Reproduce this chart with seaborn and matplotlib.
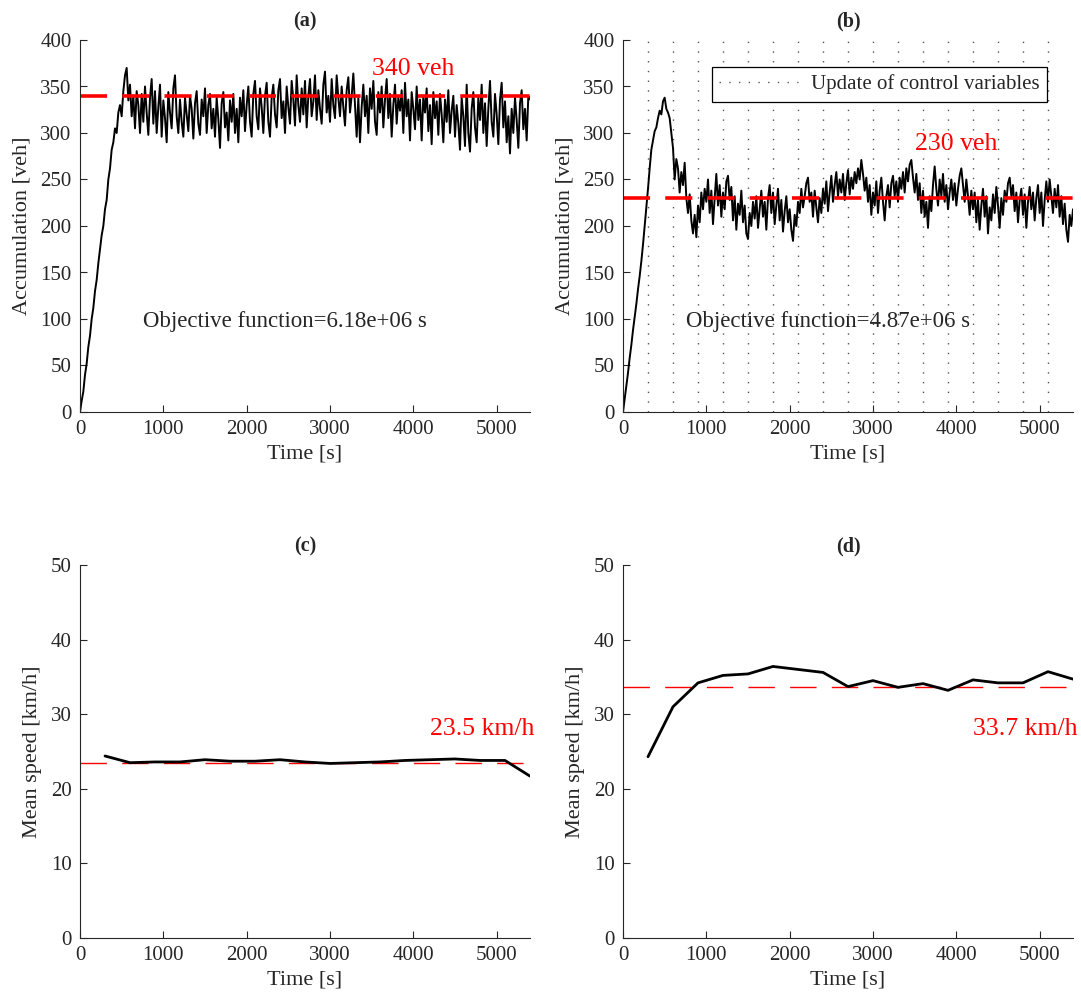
import numpy as np
import pandas as pd
import seaborn as sns
import matplotlib.pyplot as plt

# time grid of the simulated accumulation (20 s sampling)
time_acc = np.arange(0, 5401, 20)

# (a) accumulation without control [veh]
acc_a = [
    0, 12, 22, 40, 52, 70, 82, 100, 112, 130, 142, 160, 175, 190, 200,
    218, 228, 250, 262, 282, 290, 305, 300, 322, 330, 318, 345, 362, 370, 335,
    352, 318, 340, 305, 345, 330, 300, 342, 312, 350,
    322, 298, 338, 358, 310, 345, 300, 328, 352, 296,
    335, 316, 290, 344, 322, 305, 348, 362, 318, 300,
    336, 312, 296, 338, 320, 302, 340, 326, 294, 332,
    345, 310, 298, 336, 318, 348, 300, 330, 342, 305,
    326, 296, 338, 315, 284, 332, 344, 306, 322, 292,
    335, 312, 342, 300, 326, 290, 338, 318, 346, 302,
    330, 350, 312, 296, 342, 356, 318, 304, 348, 328,
    300, 340, 354, 312, 296, 338, 352, 320, 306, 346,
    358, 316, 334, 300, 350, 328, 310, 356, 336, 308,
    362, 330, 312, 348, 320, 356, 306, 340, 358, 318,
    334, 362, 314, 346, 326, 310, 352, 366, 322, 340,
    312, 358, 330, 316, 362, 338, 318, 350, 328, 308,
    346, 360, 322, 340, 364, 330, 296, 338, 290, 328,
    352, 318, 340, 300, 348, 326, 356, 312, 298, 344,
    322, 350, 306, 336, 358, 316, 342, 296, 330, 352,
    310, 338, 324, 346, 300, 354, 318, 336, 292, 344,
    326, 304, 350, 314, 336, 292, 340, 322, 348, 302,
    330, 288, 344, 316, 334, 298, 342, 320, 290, 336,
    312, 346, 300, 324, 340, 296, 330, 310, 282, 338,
    318, 286, 352, 300, 280, 326, 344, 306, 290, 338,
    314, 352, 300, 332, 286, 326, 356, 312, 296, 342,
    320, 288, 336, 354, 306, 334, 290, 318, 278, 326,
    300, 338, 314, 284, 332, 346, 304, 326, 292, 340,
    336,
]

# (b) accumulation with control [veh]
acc_b = [
    0, 14, 28, 42, 58, 72, 88, 102, 116, 132, 146, 162, 180, 200, 220,
    240, 262, 282, 292, 302, 306, 316, 324, 320, 334, 338, 326, 322, 316, 300,
    284, 250, 272, 262, 236, 258, 244, 268, 230, 214,
    234, 206, 192, 212, 188, 222, 204, 236, 218, 240,
    226, 250, 214, 238, 202, 230, 256, 222, 244, 210,
    236, 218, 248, 254, 228, 242, 206, 232, 196, 224,
    212, 238, 204, 222, 192, 186, 214, 200, 226, 208,
    232, 198, 218, 238, 210, 226, 196, 230, 244, 214,
    236, 202, 222, 240, 206, 228, 194, 216, 232, 204,
    218, 196, 184, 212, 200, 226, 214, 240, 220, 232,
    246, 252, 226, 236, 210, 238, 220, 204, 230, 214,
    240, 224, 248, 216, 236, 254, 226, 244, 258, 232,
    250, 236, 256, 228, 246, 260, 234, 252, 240, 258,
    246, 262, 250, 271, 256, 238, 252, 226, 244, 212,
    236, 222, 248, 214, 238, 252, 226, 206, 232, 244,
    220, 246, 254, 232, 248, 226, 252, 240, 258, 236,
    262, 248, 266, 271, 252, 236, 256, 228, 246, 214,
    238, 210, 226, 198, 232, 216, 244, 264, 240, 222,
    250, 232, 256, 226, 244, 218, 236, 250, 228, 246,
    222, 240, 254, 262, 244, 226, 250, 232, 212, 238,
    218, 236, 204, 228, 196, 222, 240, 210, 232, 192,
    220, 206, 234, 214, 242, 222, 198, 230, 212, 238,
    226, 246, 252, 232, 244, 216, 236, 204, 228, 240,
    212, 234, 198, 226, 242, 218, 236, 206, 230, 244,
    214, 236, 200, 228, 248, 226, 250, 232, 214, 240,
    220, 244, 210, 232, 202, 224, 196, 183, 212, 200,
    218,
]

# mean speed every 300 s [km/h]
time_speed = [300, 600, 900, 1200, 1500, 1800, 2100, 2400, 2700,
              3000, 3300, 3600, 3900, 4200, 4500, 4800, 5100, 5400]
speed_c = [24.4, 23.5, 23.6, 23.6, 23.9, 23.7, 23.7, 23.9, 23.6,
           23.4, 23.5, 23.6, 23.8, 23.9, 24.0, 23.8, 23.8, 21.7]
speed_d = [24.3, 31.0, 34.2, 35.2, 35.4, 36.4, 36.0, 35.6, 33.7,
           34.5, 33.6, 34.1, 33.2, 34.6, 34.2, 34.2, 35.7, 34.7]

# control update instants in (b)
update_times = [300, 600, 900, 1200, 1500, 1800, 2100, 2400, 2700,
                3000, 3300, 3600, 3900, 4200, 4500, 4800, 5100]

# reference levels and annotation heights
target_acc = {'a': 340, 'b': 230}
target_label_y = {'a': 362, 'b': 282}
mean_speed = {'c': 23.5, 'd': 33.7}
objective = {'a': '6.18e+06', 'b': '4.87e+06'}

sns.set_style('ticks')
plt.rcParams['font.family'] = ['Liberation Serif', 'DejaVu Serif']
plt.rcParams['xtick.direction'] = 'in'
plt.rcParams['ytick.direction'] = 'in'

fig = plt.figure(figsize=(10.81, 10.05), dpi=100)
W, H = 1081, 1005
ax_a = fig.add_axes([80 / W, (H - 412) / H, 450 / W, 372 / H])
ax_b = fig.add_axes([623 / W, (H - 412) / H, 450 / W, 372 / H])
ax_c = fig.add_axes([80 / W, (H - 938) / H, 450 / W, 373 / H])
ax_d = fig.add_axes([623 / W, (H - 938) / H, 450 / W, 373 / H])

dark = '#262626'
red = '#ff0000'


def style(ax, ylim, yticks, ylabel, title):
    ax.set_xlim(0, 5400)
    ax.set_ylim(*ylim)
    ax.set_xticks([0, 1000, 2000, 3000, 4000, 5000])
    ax.set_yticks(yticks)
    ax.tick_params(labelsize=15, colors=dark, length=5, width=0.8, pad=6)
    ax.set_xlabel('Time [s]', fontsize=16, color=dark, labelpad=4)
    ax.set_ylabel(ylabel, fontsize=16, color=dark, labelpad=6)
    ax.set_title(title, fontsize=14.5, fontweight='bold', pad=10)
    for s in ['left', 'bottom']:
        ax.spines[s].set_color(dark)
        ax.spines[s].set_linewidth(0.8)
    sns.despine(ax=ax)


# accumulation panels
for ax, key, acc in [(ax_a, 'a', acc_a), (ax_b, 'b', acc_b)]:
    if key == 'b':
        for i, tu in enumerate(update_times):
            ax.axvline(tu, color='#555555', lw=1.0, ls=(0, (1, 6)),
                       label='Update of control variables' if i == 0 else None)
    sns.lineplot(x=time_acc, y=acc, ax=ax, color='k', lw=1.4, estimator=None)
    sns.lineplot(x=[0, 5400], y=[target_acc[key]] * 2, ax=ax, color=red,
                 lw=2.6, dashes=False)
    ax.lines[-1].set_dashes((7.5, 4.2))
    ax.text(3500, target_label_y[key], f'{target_acc[key]} veh', color=red,
            fontsize=18.5, va='baseline')
    ax.text(755, 91, f'Objective function={objective[key]} s', fontsize=16.5,
            va='baseline')
    style(ax, (0, 400), range(0, 401, 50), 'Accumulation [veh]', f'({key})')

leg = ax_b.legend(loc='upper right', bbox_to_anchor=(0.942, 0.927),
                  borderaxespad=0, fontsize=15, frameon=True, fancybox=False,
                  handlelength=3.8, borderpad=0.35, handletextpad=0.6)
leg.get_frame().set_edgecolor('k')
leg.get_frame().set_linewidth(0.9)
leg.get_frame().set_alpha(1)

# mean speed panels
for ax, key, sp in [(ax_c, 'c', speed_c), (ax_d, 'd', speed_d)]:
    sns.lineplot(x=[0, 5400], y=[mean_speed[key]] * 2, ax=ax, color=red,
                 lw=1.0, dashes=False)
    ax.lines[-1].set_dashes((19, 11))
    sns.lineplot(x=time_speed, y=sp, ax=ax, color='k', lw=2.0, estimator=None)
    ax.text(4200, 27.2, f'{mean_speed[key]} km/h', color=red, fontsize=18.5,
            va='baseline', clip_on=False)
    style(ax, (0, 50), range(0, 51, 10), 'Mean speed [km/h]', f'({key})')

fig.savefig('out.png', dpi=100)
